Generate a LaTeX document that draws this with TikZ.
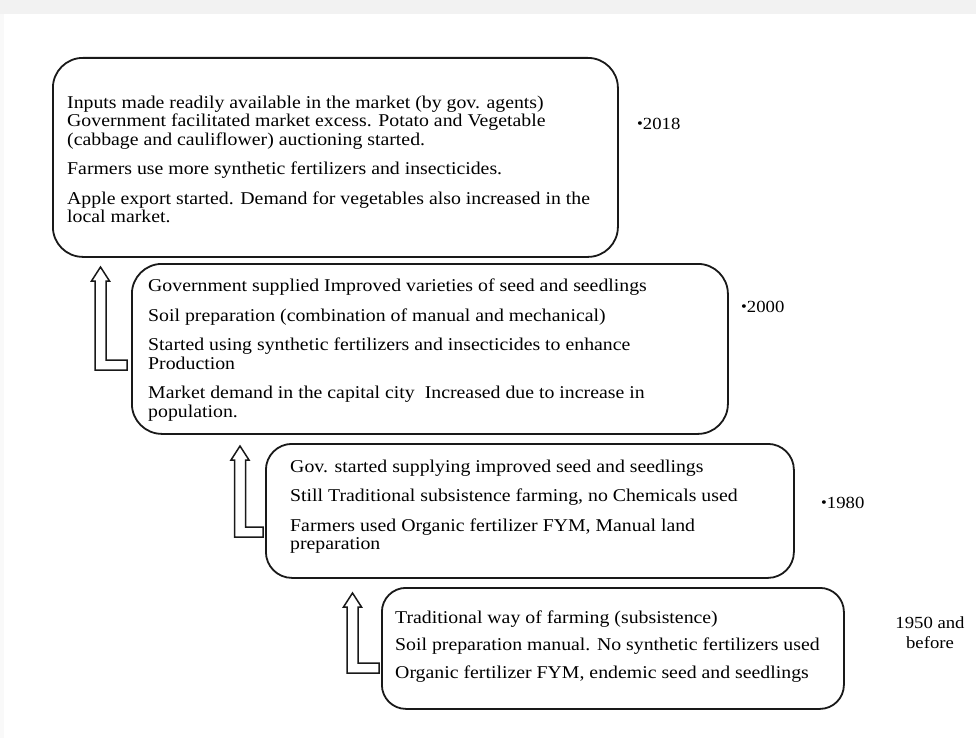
\documentclass[tikz,border=0pt]{standalone}
\usepackage{fontspec}
\setmainfont[FakeStretch=1.1]{Liberation Serif}
\usetikzlibrary{positioning}

\tikzset{
  stage/.style={draw=black!90, line width=1.8pt, rounded corners=30pt, anchor=north west, inner sep=0pt},
  stagetext/.style={anchor=west, align=left, inner sep=0pt, font=\fontsize{18}{18.5}\selectfont},
  yearlabel/.style={anchor=west, inner sep=0pt, font=\fontsize{17}{20}\selectfont},
  hollow/.style={draw=black!90, line width=1.5pt, fill=white, line join=miter}
}
% bent hollow arrow: shaft centre, tip y, bottom y, right end x
\newcommand{\bentup}[4]{
  \draw[hollow] (#1-5.5,#3) -- (#1-5.5,#2+14) -- (#1-9,#2+14) -- (#1,#2)
    -- (#1+9,#2+14) -- (#1+5.5,#2+14) -- (#1+5.5,#3-10) -- (#4,#3-10) -- (#4,#3) -- cycle;
}
\newcommand{\yb}{{\fontsize{15}{15}\selectfont\raisebox{0.15ex}{•}}}

\begin{document}
\begin{tikzpicture}[x=1pt,y=-1pt]
  \useasboundingbox (0,0) rectangle (976,738);
  \fill[gray!10] (0,0) rectangle (976,14);
  \fill[gray!5] (0,14) rectangle (4,738);

  % stage boxes
  \node[stage, minimum width=565pt, minimum height=199pt] (b1) at (52,57) {};
  \node[stage, minimum width=596pt, minimum height=170pt] (b2) at (131,263) {};
  \node[stage, minimum width=528pt, minimum height=134pt, rounded corners=26pt] (b3) at (265,443) {};
  \node[stage, minimum width=462pt, minimum height=121pt, rounded corners=24pt] (b4) at (381,587) {};

  \node[stagetext] (t1) at ([xshift=15pt,yshift=-2pt]b1.west) {Inputs made readily available in the market (by gov. agents)\\
    Government facilitated market excess. Potato and Vegetable\\
    (cabbage and cauliflower) auctioning started.\\[11pt]
    Farmers use more synthetic fertilizers and insecticides.\\[11pt]
    Apple export started. Demand for vegetables also increased in the\\
    local market.};
  \node[stagetext] (t2) at ([xshift=17pt,yshift=-1pt]b2.west) {Government supplied Improved varieties of seed and seedlings\\[11pt]
    Soil preparation (combination of manual and mechanical)\\[11pt]
    Started using synthetic fertilizers and insecticides to enhance\\
    Production\\[11pt]
    Market demand in the capital city\ \ Increased due to increase in\\
    population.};
  \node[stagetext] (t3) at ([xshift=25pt,yshift=4pt]b3.west) {Gov. started supplying improved seed and seedlings\\[11pt]
    Still Traditional subsistence farming, no Chemicals used\\[11pt]
    Farmers used Organic fertilizer FYM, Manual land\\
    preparation};
  \node[stagetext] (t4) at ([xshift=14pt,yshift=2pt]b4.west) {Traditional way of farming (subsistence)\\[9pt]
    Soil preparation manual. No synthetic fertilizers used\\[9pt]
    Organic fertilizer FYM, endemic seed and seedlings};

  % years
  \node[yearlabel] (y1) at (637,124) {\yb2018};
  \node[yearlabel] (y2) at (741,307) {\yb2000};
  \node[yearlabel] (y3) at (821,503) {\yb1980};
  \node[yearlabel, anchor=center, align=center] (y4) at (930,633) {1950 and\\before};

  % arrows between stages
  \bentup{100.5}{267}{370}{127}
  \bentup{240}{446}{537}{263}
  \bentup{352.5}{593}{673}{379}
\end{tikzpicture}
\end{document}
